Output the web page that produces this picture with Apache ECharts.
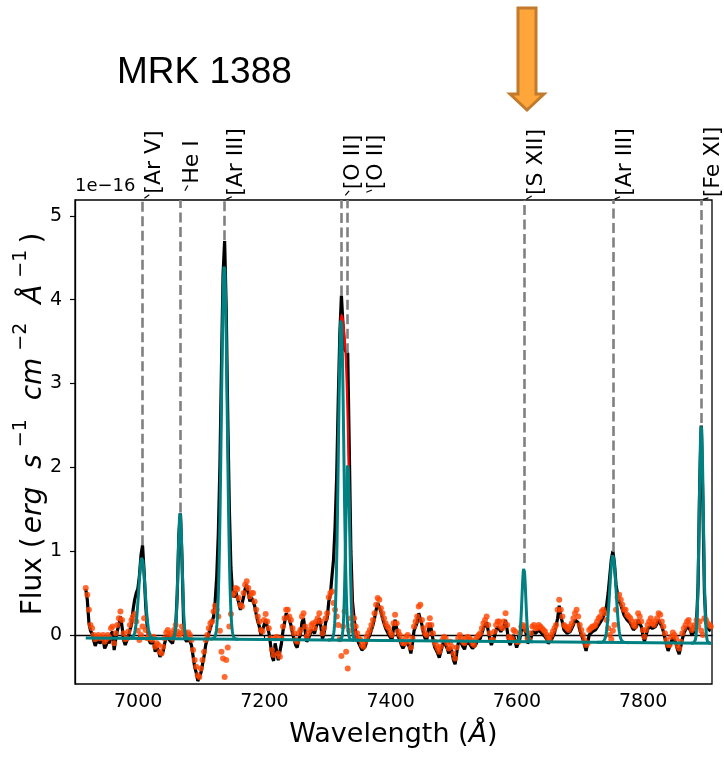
<!DOCTYPE html>
<html>
<head>
<meta charset="utf-8">
<script src="https://cdn.jsdelivr.net/npm/echarts@6/dist/echarts.min.js"></script>
<style>
html, body { margin: 0; padding: 0; background: #ffffff; }
#chart { width: 724px; height: 758px; }
</style>
</head>
<body>
<div id="chart"></div>
<script>
// Observed spectrum of MRK 1388 (flux in units of 1e-16 erg/s/cm^2/A),
// sampled every 2.5 A starting at 6917 A
const waveStart = 6917;
const waveStep = 2.5;
const flux = [
  0.55, 0.42, 0.15, 0.05, 0.02, -0.06, -0.13, -0.08, -0.05, -0.10,
  -0.09, -0.05, -0.16, -0.12, -0.06, -0.10, 0.01, 0.04, -0.18, -0.05,
  0.05, 0.12, 0.22, 0.10, -0.06, -0.12, -0.10, -0.02, 0.06, 0.12,
  0.30, 0.42, 0.50, 0.55, 0.70, 0.95, 1.07, 0.75, 0.35, 0.08,
  -0.05, -0.10, -0.12, -0.08, -0.20, -0.15, -0.18, -0.26, -0.28, -0.20,
  -0.10, -0.03, 0.00, -0.06, -0.05, -0.10, 0.00, 0.10, 0.50, 1.20,
  1.45, 0.90, 0.15, -0.05, -0.08, -0.03, -0.05, -0.12, -0.25, -0.38,
  -0.45, -0.55, -0.55, -0.45, -0.35, -0.25, -0.12, -0.05, 0.02, 0.08,
  0.10, 0.22, 0.40, 0.70, 1.20, 2.00, 3.20, 4.30, 4.70, 3.90,
  2.60, 1.50, 0.80, 0.50, 0.45, 0.52, 0.50, 0.38, 0.30, 0.28,
  0.45, 0.55, 0.60, 0.50, 0.40, 0.45, 0.44, 0.35, 0.25, 0.16,
  0.10, 0.00, -0.02, 0.12, 0.18, 0.10, 0.03, -0.10, -0.25, -0.31,
  -0.10, -0.08, -0.30, -0.32, -0.10, 0.05, 0.15, 0.26, 0.25, 0.18,
  0.12, 0.02, -0.05, -0.12, -0.15, -0.05, 0.00, 0.15, 0.20, 0.05,
  -0.08, -0.05, 0.00, 0.06, 0.08, 0.02, 0.10, 0.14, 0.20, 0.10,
  -0.05, 0.02, 0.15, 0.20, 0.40, 0.48, 0.70, 0.90, 1.30, 1.90,
  2.80, 3.60, 4.05, 3.70, 3.40, 3.38, 3.36, 2.20, 1.00, 0.40,
  0.20, 0.05, -0.05, -0.10, -0.12, -0.18, -0.20, -0.14, -0.08, -0.04,
  0.00, 0.06, 0.12, 0.20, 0.30, 0.38, 0.38, 0.28, 0.20, 0.14,
  0.08, 0.04, 0.02, -0.03, -0.06, 0.08, 0.18, 0.08, -0.02, -0.06,
  -0.12, -0.16, -0.15, -0.08, -0.07, -0.14, -0.22, -0.10, 0.05, 0.10,
  0.15, 0.26, 0.28, 0.12, 0.02, -0.04, -0.07, 0.05, 0.14, 0.06,
  -0.05, -0.14, -0.18, -0.22, -0.27, -0.20, -0.12, -0.08, -0.10, -0.16,
  -0.22, -0.15, -0.20, -0.30, -0.35, -0.22, -0.10, -0.06, -0.10, -0.14,
  -0.17, -0.10, -0.08, -0.10, -0.12, -0.16, -0.18, -0.12, -0.08, -0.06,
  -0.04, 0.02, 0.08, 0.12, 0.15, 0.05, -0.05, -0.12, -0.12, -0.02,
  0.06, 0.10, 0.09, 0.04, 0.02, 0.10, 0.18, 0.06, -0.08, -0.12,
  -0.10, 0.00, -0.02, -0.15, -0.15, -0.05, 0.05, 0.10, 0.10, 0.02,
  -0.10, -0.12, -0.05, 0.04, 0.06, 0.02, 0.02, 0.06, 0.05, 0.02,
  0.00, -0.02, -0.05, -0.10, -0.12, -0.06, -0.02, 0.02, 0.04, 0.20,
  0.35, 0.22, 0.15, 0.06, 0.04, 0.02, 0.00, 0.04, 0.08, 0.12,
  0.18, 0.20, 0.15, 0.06, 0.00, -0.05, -0.12, -0.19, -0.18, 0.00,
  0.02, 0.04, 0.04, 0.06, 0.08, 0.12, 0.14, 0.18, 0.22, 0.28,
  0.35, 0.50, 0.70, 0.90, 1.00, 0.85, 0.60, 0.48, 0.40, 0.36,
  0.30, 0.24, 0.22, 0.18, 0.16, 0.14, 0.10, 0.06, 0.04, 0.10,
  0.18, 0.16, 0.10, 0.00, -0.08, 0.00, 0.06, 0.10, 0.12, 0.08,
  0.06, 0.10, 0.14, 0.18, 0.18, 0.10, 0.04, -0.04, -0.12, -0.19,
  -0.19, -0.08, -0.03, -0.06, -0.10, -0.18, -0.23, -0.14, -0.05, 0.02,
  0.06, 0.10, 0.12, 0.06, 0.00, 0.02, 0.05, 0.15, 0.60, 1.80,
  2.50, 1.60, 0.50, 0.14, 0.10, 0.06, 0.05
];
// Same spectrum with the fitted emission lines removed
const residual = [
  0.56, 0.48, 0.30, 0.12, 0.08, 0.00, -0.05, -0.02, 0.00, -0.04,
  -0.03, 0.00, -0.08, -0.05, 0.00, -0.03, 0.08, 0.10, -0.10, 0.02,
  0.12, 0.20, 0.28, 0.18, 0.02, -0.05, -0.04, 0.04, 0.12, 0.18,
  0.22, 0.25, 0.16, 0.05, -0.06, 0.00, 0.10, 0.20, 0.06, -0.04,
  0.00, -0.04, -0.06, -0.02, -0.14, -0.10, -0.12, -0.20, -0.22, -0.14,
  -0.04, 0.03, 0.06, 0.00, 0.02, -0.04, 0.06, 0.12, 0.04, 0.00,
  0.02, 0.10, 0.05, 0.02, -0.02, 0.03, 0.00, -0.06, -0.18, -0.30,
  -0.38, -0.48, -0.50, -0.40, -0.30, -0.20, -0.06, 0.00, 0.08, 0.14,
  0.16, 0.28, 0.35, 0.30, 0.22, 0.05, -0.20, -0.28, -0.50, -0.30,
  -0.15, 0.10, 0.25, 0.48, 0.50, 0.56, 0.55, 0.44, 0.36, 0.34,
  0.50, 0.60, 0.64, 0.56, 0.46, 0.50, 0.50, 0.40, 0.30, 0.22,
  0.16, 0.06, 0.04, 0.18, 0.25, 0.16, 0.08, -0.04, -0.18, -0.24,
  -0.04, -0.02, -0.22, -0.26, -0.04, 0.10, 0.20, 0.30, 0.30, 0.22,
  0.18, 0.08, 0.02, -0.06, -0.08, 0.02, 0.06, 0.22, 0.26, 0.10,
  -0.02, 0.02, 0.06, 0.12, 0.14, 0.08, 0.16, 0.20, 0.26, 0.16,
  0.02, 0.08, 0.20, 0.26, 0.45, 0.50, 0.52, 0.38, 0.30, 0.22,
  0.12, -0.05, -0.25, 0.10, 0.28, -0.20, -0.40, 0.05, 0.20, 0.12,
  0.20, 0.10, 0.02, -0.04, -0.06, -0.12, -0.14, -0.08, -0.02, 0.02,
  0.06, 0.12, 0.18, 0.26, 0.36, 0.44, 0.42, 0.32, 0.26, 0.20,
  0.14, 0.10, 0.08, 0.03, 0.00, 0.14, 0.24, 0.14, 0.04, 0.00,
  -0.06, -0.10, -0.10, -0.02, 0.00, -0.08, -0.15, -0.04, 0.10, 0.16,
  0.22, 0.34, 0.36, 0.18, 0.08, 0.02, 0.00, 0.12, 0.20, 0.12,
  0.02, -0.08, -0.12, -0.16, -0.20, -0.14, -0.06, -0.02, -0.04, -0.10,
  -0.16, -0.08, -0.14, -0.22, -0.28, -0.15, -0.04, 0.00, -0.04, -0.08,
  -0.10, -0.04, -0.02, -0.04, -0.06, -0.10, -0.12, -0.06, -0.02, 0.00,
  0.02, 0.08, 0.14, 0.18, 0.22, 0.12, 0.02, -0.06, -0.06, 0.04,
  0.12, 0.16, 0.16, 0.10, 0.08, 0.16, 0.26, 0.12, -0.02, -0.06,
  -0.04, 0.06, 0.04, -0.08, -0.08, 0.02, 0.10, 0.12, 0.10, 0.06,
  -0.04, -0.06, 0.02, 0.10, 0.12, 0.08, 0.08, 0.12, 0.10, 0.08,
  0.06, 0.04, 0.00, -0.04, -0.06, 0.00, 0.04, 0.08, 0.12, 0.30,
  0.42, 0.30, 0.22, 0.12, 0.10, 0.08, 0.06, 0.10, 0.14, 0.20,
  0.26, 0.30, 0.22, 0.12, 0.06, 0.00, -0.06, -0.12, -0.10, 0.06,
  0.08, 0.10, 0.10, 0.12, 0.16, 0.20, 0.22, 0.28, 0.30, 0.26,
  0.18, 0.08, 0.00, -0.05, 0.05, 0.12, 0.30, 0.45, 0.48, 0.42,
  0.36, 0.30, 0.30, 0.24, 0.22, 0.20, 0.16, 0.12, 0.10, 0.16,
  0.26, 0.22, 0.16, 0.06, -0.02, 0.06, 0.12, 0.16, 0.20, 0.14,
  0.12, 0.16, 0.20, 0.26, 0.24, 0.16, 0.10, 0.02, -0.06, -0.12,
  -0.12, -0.02, 0.03, 0.00, -0.04, -0.12, -0.16, -0.08, 0.02, 0.08,
  0.12, 0.16, 0.18, 0.12, 0.06, 0.08, 0.12, 0.18, 0.10, 0.16,
  0.05, 0.00, 0.20, 0.18, 0.14, 0.12, 0.10
];

// Blended fit across the [O II] doublet (right-hand side of the blend)
const blendWave = [7321, 7322, 7324.5, 7327, 7329, 7331, 7333, 7335, 7337, 7339, 7342, 7346];
const blendFlux = [3.7, 3.82, 3.75, 3.55, 3.3, 2.85, 2.2, 1.4, 0.8, 0.4, 0.1, -0.04];

// Emission line identifications
const lineNames = ['[Ar V]', 'He I', '[Ar III]', '[O II]', '[O II]', '[S XII]', '[Ar III]', '[Fe XI]'];
const lineWaves = [7006, 7066, 7137, 7322, 7332, 7612, 7752, 7892];
const lineTops = [1.07, 1.46, 4.71, 4.05, 3.36, 0.86, 0.99, 2.53];

// Gaussian fit components
const fitCenters = [7006, 7066.5, 7136.5, 7321.5, 7332, 7611, 7752, 7892];
const fitAmps = [0.97, 1.50, 4.47, 3.84, 2.11, 0.88, 1.04, 2.62];
const fitSigmas = [5.0, 3.2, 4.6, 4.2, 3.2, 3.0, 5.0, 3.2];
const contWave = [6917, 7908];
const contFlux = [-0.035, -0.10];

const xTicks = [7000, 7200, 7400, 7600, 7800];
const yTicks = [0, 1, 2, 3, 4, 5];
const xRange = [6900, 7909];
const yRange = [-0.585, 5.19];

const FONT = 'DejaVu Sans';
const TEAL = '#008080';

function continuum(w) {
  const t = (w - contWave[0]) / (contWave[1] - contWave[0]);
  return contFlux[0] + t * (contFlux[1] - contFlux[0]);
}
function gauss(k, w) {
  const d = w - fitCenters[k];
  return fitAmps[k] * Math.exp(-d * d / (2 * fitSigmas[k] * fitSigmas[k]));
}

const spectrum = flux.map((v, i) => [waveStart + i * waveStep, v]);
const resPts = residual.map((v, i) => [waveStart + i * waveStep, v]);
const blendPts = blendWave.map((w, i) => [w, blendFlux[i]]);

const components = fitCenters.map((c, k) => {
  const pts = [];
  const s = fitSigmas[k];
  for (let w = c - 5 * s; w <= c + 5 * s + 1e-9; w += 0.25) {
    pts.push([w, continuum(w) + gauss(k, w)]);
  }
  return pts;
});

const chart = echarts.init(document.getElementById('chart'), null, { renderer: 'canvas' });

const series = [
  {
    type: 'line', name: 'markers', data: [], z: 1, silent: true,
    markLine: {
      symbol: 'none', silent: true, animation: false,
      label: { show: false },
      lineStyle: { color: '#808080', width: 2.6, type: [10, 4.5], opacity: 1 },
      emphasis: { disabled: true },
      data: lineWaves.map((w, i) => [{ coord: [w, lineTops[i]] }, { coord: [w, yRange[1]] }])
    }
  },
  {
    type: 'line', name: 'data', data: spectrum, showSymbol: false, z: 2,
    lineStyle: { color: '#000000', width: 3.2 }, silent: true
  },
  {
    type: 'line', name: 'blend', data: blendPts, showSymbol: false, z: 3, smooth: 0.3,
    lineStyle: { color: '#ff0000', width: 2.2 }, silent: true
  },
  {
    type: 'scatter', name: 'residual', data: resPts, z: 4, symbolSize: 6,
    itemStyle: { color: '#ff4500' }, silent: true
  },
  {
    type: 'line', name: 'continuum', data: contWave.map((w, i) => [w, contFlux[i]]),
    showSymbol: false, z: 5, lineStyle: { color: TEAL, width: 3 }, silent: true
  }
].concat(components.map((pts, k) => ({
  type: 'line', name: 'comp' + k, data: pts, showSymbol: false, z: 5,
  lineStyle: { color: TEAL, width: 3 }, silent: true
})));

chart.setOption({
  animation: false,
  backgroundColor: '#ffffff',
  grid: {
    left: 75, right: 12, top: 200, bottom: 74,
    show: true, borderColor: '#000000', borderWidth: 1.3, backgroundColor: 'transparent'
  },
  xAxis: {
    type: 'value', min: xRange[0], max: xRange[1],
    splitLine: { show: false },
    axisLine: { show: true, lineStyle: { color: '#000', width: 1.3 } },
    axisTick: { show: true, customValues: xTicks, length: 5, lineStyle: { color: '#000', width: 1.2 } },
    axisLabel: {
      customValues: xTicks, color: '#000', fontSize: 19, fontFamily: FONT, margin: 9,
      formatter: (v) => String(v)
    },
    name: '{n|Wavelength (}{i|Å}{n|)}',
    nameLocation: 'middle', nameGap: 37,
    nameTextStyle: {
      rich: {
        n: { fontSize: 27, fontFamily: FONT, color: '#000' },
        i: { fontSize: 27, fontFamily: FONT, fontStyle: 'italic', color: '#000' }
      }
    }
  },
  yAxis: {
    type: 'value', min: yRange[0], max: yRange[1],
    splitLine: { show: false },
    axisLine: { show: true, lineStyle: { color: '#000', width: 1.3 } },
    axisTick: { show: true, customValues: yTicks, length: 5, lineStyle: { color: '#000', width: 1.2 } },
    axisLabel: {
      customValues: yTicks, color: '#000', fontSize: 19, fontFamily: FONT, margin: 13,
      formatter: (v) => String(v)
    }
  },
  series: series
});

// Title, axis label, scale factor, line labels and the highlight arrow
const graphics = [
  {
    type: 'text', x: 117, y: 73, silent: true,
    style: {
      text: 'MRK 1388', font: '37px "Liberation Sans", Arial, sans-serif', fill: '#000',
      align: 'left', verticalAlign: 'middle'
    }
  },
  {
    type: 'text', x: 29.5, y: 424, rotation: Math.PI / 2, silent: true,
    style: {
      text: '{n|Flux (}{i|erg}{i| s}{s|−1}{i| cm}{s|−2}{i| Å}{s|−1}{n|)}',
      align: 'center', verticalAlign: 'middle',
      rich: {
        n: { fontSize: 28, fontFamily: FONT, fill: '#000', lineHeight: 36, verticalAlign: 'bottom' },
        i: { fontSize: 28, fontFamily: FONT, fontStyle: 'italic', fill: '#000', lineHeight: 36, verticalAlign: 'bottom', padding: [0, 5, 0, 4] },
        s: { fontSize: 19, fontFamily: FONT, fill: '#000', lineHeight: 36, verticalAlign: 'top', padding: [0, 6, 0, 2] }
      }
    }
  },
  {
    type: 'text', x: 75, y: 186, silent: true,
    style: { text: '1e−16', font: '18px "DejaVu Sans"', fill: '#000', verticalAlign: 'middle', align: 'left' }
  },
  {
    type: 'polygon', silent: true,
    shape: { points: [[518, 8], [536, 8], [536, 94], [544, 94], [527, 110], [510, 94], [518, 94]] },
    style: { fill: '#ffa63a', stroke: '#c27a2c', lineWidth: 3, lineJoin: 'miter' }
  }
];

// Line labels: rotated text centred on a common height above the frame,
// each with a short leader pointing down towards its line.
const LABEL_FONT = '22px "DejaVu Sans"';
const labelCenterY = 162;
const labelShift = [1, 1, 1, 1, 18, 1, 1, 1];
const measureCtx = document.createElement('canvas').getContext('2d');
measureCtx.font = LABEL_FONT;
lineWaves.forEach((w, i) => {
  const p = chart.convertToPixel({ xAxisIndex: 0, yAxisIndex: 0 }, [w, yRange[1]]);
  const tx = p[0] + labelShift[i];
  graphics.push({
    type: 'text', x: tx, y: labelCenterY, rotation: Math.PI / 2, silent: true,
    style: { text: lineNames[i], font: LABEL_FONT, fill: '#000', align: 'center', verticalAlign: 'top' }
  });
  const half = measureCtx.measureText(lineNames[i]).width / 2;
  const cx = tx + 8;
  const sy = labelCenterY + half;
  const dx = p[0] - cx, dy = p[1] - sy;
  const len = Math.sqrt(dx * dx + dy * dy);
  if (dy > 0 && len > 6) {
    const ux = dx / len, uy = dy / len;
    const segLen = Math.min(6, len - 4);
    graphics.push({
      type: 'line', silent: true,
      shape: { x1: cx + ux * 2, y1: sy + uy * 2, x2: cx + ux * (2 + segLen), y2: sy + uy * (2 + segLen) },
      style: { stroke: '#000', lineWidth: 1.2 }
    });
  }
});
chart.setOption({ graphic: graphics });
</script>
</body>
</html>
